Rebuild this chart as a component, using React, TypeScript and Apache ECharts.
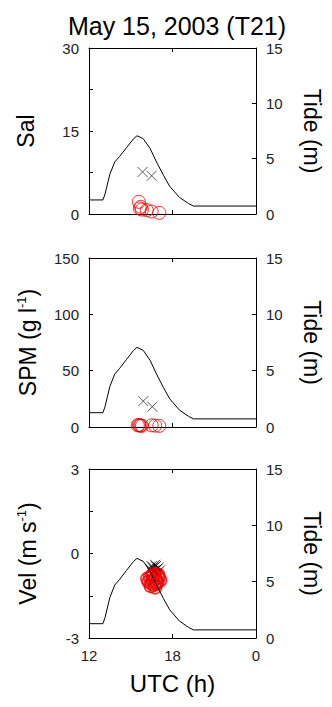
import React, { useEffect, useRef } from 'react';
import * as echarts from 'echarts';

const FONT = '"Liberation Sans", Arial, Helvetica, sans-serif';

// Tide curve (shared by all three panels)
const tideTime = [12, 13.0, 13.15, 13.5, 13.85, 14.2, 14.7, 15.2, 15.45, 15.9, 16.4, 16.85, 17.35, 17.8, 18.5, 19.15, 19.5, 24];
const tideHeight = [1.27, 1.27, 1.8, 3.6, 4.7, 5.2, 6.0, 6.8, 7.07, 6.8, 5.9, 4.7, 3.5, 2.5, 1.5, 0.95, 0.72, 0.72];

// Panel 1: Salinity
const salCircleTime = [15.58, 15.65, 15.72, 15.8, 16.15, 16.5, 17.05];
const salCircleVal = [2.2, 1.0, 1.3, 0.8, 0.7, 0.45, 0.2];
const salCrossTime = [15.85, 16.5];
const salCrossVal = [7.6, 6.9];

// Panel 2: SPM
const spmCircleTime = [15.5, 15.58, 15.65, 15.72, 15.8, 16.5, 16.75, 17.05];
const spmCircleVal = [1.5, 1.8, 1.2, 1.5, 1.0, 1.5, 1.2, 1.0];
const spmCrossTime = [15.9, 16.55];
const spmCrossVal = [23, 18];

// Panel 3: Velocity
const velCircleTime = [16.2, 16.3, 16.4, 16.5, 16.6, 16.7, 16.8, 16.9, 17.0, 17.1, 16.65, 16.75, 16.45, 16.95, 16.85, 16.55];
const velCircleVal = [-0.9, -1.0, -0.85, -1.05, -0.95, -1.1, -0.9, -1.0, -0.85, -0.95, -0.75, -1.2, -1.15, -0.75, -1.05, -0.8];
const velCrossTime = [16.4, 16.5, 16.6, 16.7, 16.8, 16.9, 17.0, 16.65, 16.75, 17.1, 16.55, 16.85];
const velCrossVal = [-0.55, -0.45, -0.5, -0.6, -0.45, -0.55, -0.5, -0.65, -0.4, -0.6, -0.7, -0.7];

// Axis settings
const xTicks = { min: 12, max: 24, interval: 6 };
const xTickLabels: Record<number, string> = { 12: '12', 18: '18', 24: '0' };
const leftAxes = [
  { min: 0, max: 30, interval: 7.5, labels: [0, 15, 30], name: 'Sal' },
  { min: 0, max: 150, interval: 50, labels: [0, 50, 100, 150], name: '{a|SPM (g l}{s|-1}{a|)}' },
  { min: -3, max: 3, interval: 1.5, labels: [-3, 0, 3], name: '{a|Vel (m s}{s|-1}{a|)}' },
];
const tideAxis = { min: 0, max: 15, interval: 5, name: 'Tide (m)' };
const titleText = 'May 15, 2003 (T21)';
const xName = 'UTC (h)';

const zip = (a: number[], b: number[]) => a.map((v, i) => [v, b[i]]);

const panels = [
  { circles: zip(salCircleTime, salCircleVal), crosses: zip(salCrossTime, salCrossVal) },
  { circles: zip(spmCircleTime, spmCircleVal), crosses: zip(spmCrossTime, spmCrossVal) },
  { circles: zip(velCircleTime, velCircleVal), crosses: zip(velCrossTime, velCrossVal) },
];

const gridPos = [
  { top: 48, height: 166 },
  { top: 258, height: 169 },
  { top: 469, height: 169 },
];

export default function App() {
  const ref = useRef<HTMLDivElement>(null);
  useEffect(() => {
    if (!ref.current) return;
    const chart = echarts.init(ref.current, undefined, { renderer: 'svg' });
    const axisLine = { show: true, onZero: false, lineStyle: { color: '#000', width: 1 } };
    const tick = { show: true, inside: true, length: 4, lineStyle: { color: '#000', width: 1 } };
    const labelStyle = { color: '#222', fontSize: 15, fontFamily: FONT };
    const nameStyle = { color: '#000', fontSize: 23, fontFamily: FONT };
    const rich = {
      a: { fontSize: 23, fontFamily: FONT, color: '#000', lineHeight: 26 },
      s: { fontSize: 13, fontFamily: FONT, color: '#000', verticalAlign: 'top', lineHeight: 26 },
    };

    const grid: any[] = [];
    const xAxis: any[] = [];
    const yAxis: any[] = [];
    const series: any[] = [];
    const tideData = zip(tideTime, tideHeight);

    gridPos.forEach((g, i) => {
      grid.push({ left: 89, width: 167, top: g.top, height: g.height, containLabel: false });
      const isLast = i === gridPos.length - 1;
      xAxis.push({
        type: 'value', gridIndex: i, position: 'bottom', ...xTicks,
        axisLine, axisTick: tick, splitLine: { show: false },
        axisLabel: isLast
          ? { show: true, margin: 10, ...labelStyle, formatter: (v: number) => xTickLabels[v] ?? '' }
          : { show: false },
        name: isLast ? xName : '', nameLocation: 'middle', nameGap: 33, nameTextStyle: { ...nameStyle, fontSize: 24 },
      });
      xAxis.push({
        type: 'value', gridIndex: i, position: 'top', ...xTicks,
        axisLine, axisTick: tick, splitLine: { show: false }, axisLabel: { show: false },
      });
      const la = leftAxes[i];
      yAxis.push({
        type: 'value', gridIndex: i, position: 'left', min: la.min, max: la.max, interval: la.interval,
        axisLine, axisTick: tick, splitLine: { show: false },
        axisLabel: {
          show: true, margin: 10, ...labelStyle,
          formatter: (v: number) => (la.labels.some((l) => Math.abs(l - v) < 1e-6) ? String(v) : ''),
        },
        name: la.name, nameLocation: 'middle', nameRotate: 90, nameGap: i === 0 ? 52 : 48,
        nameTextStyle: { ...nameStyle, rich },
      });
      yAxis.push({
        type: 'value', gridIndex: i, position: 'right', min: tideAxis.min, max: tideAxis.max, interval: tideAxis.interval,
        axisLine, axisTick: tick, splitLine: { show: false },
        axisLabel: { show: true, margin: 10, ...labelStyle },
        name: tideAxis.name, nameLocation: 'middle', nameRotate: -90, nameGap: 44,
        nameTextStyle: nameStyle,
      });
      series.push({
        type: 'line', xAxisIndex: 2 * i, yAxisIndex: 2 * i + 1, data: tideData,
        showSymbol: false, symbol: 'none', lineStyle: { color: '#000', width: 1 }, silent: true,
      });
      series.push({
        type: 'scatter', xAxisIndex: 2 * i, yAxisIndex: 2 * i, data: panels[i].crosses,
        symbol: 'path://M0,0L10,10M10,0L0,10', symbolSize: 10,
        itemStyle: { color: 'none', borderColor: i === 2 ? '#000' : '#333', borderWidth: 1 },
      });
      series.push({
        type: 'scatter', xAxisIndex: 2 * i, yAxisIndex: 2 * i, data: panels[i].circles,
        symbol: 'circle', symbolSize: 13,
        itemStyle: { color: 'none', borderColor: '#ee0000', borderWidth: i === 2 ? 1.6 : 1 },
      });
    });

    chart.setOption({
      animation: false,
      backgroundColor: '#fff',
      title: {
        text: titleText, left: 172, top: 8, textAlign: 'center',
        textStyle: { fontSize: 25, fontWeight: 'normal', color: '#000', fontFamily: FONT },
      },
      grid, xAxis, yAxis, series,
    });
    return () => chart.dispose();
  }, []);
  return <div ref={ref} style={{ position: 'absolute', left: 0, top: 0, width: 332, height: 707 }} />;
}
